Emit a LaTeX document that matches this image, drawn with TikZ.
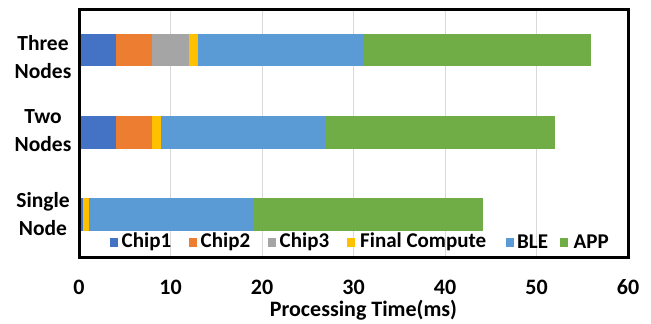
\documentclass[tikz,border=0pt]{standalone}
\usepackage{fontspec}
\setmainfont{Carlito}
\definecolor{cA}{HTML}{4472C4}
\definecolor{cB}{HTML}{ED7D31}
\definecolor{cC}{HTML}{A5A5A5}
\definecolor{cD}{HTML}{FFC000}
\definecolor{cE}{HTML}{5B9BD5}
\definecolor{cF}{HTML}{70AD47}
\definecolor{gridc}{HTML}{D9D9D9}
\begin{document}
\begin{tikzpicture}[x=1pt,y=-1pt,
  txt/.style={font=\bfseries\fontsize{21}{28}\selectfont, inner sep=0pt, text=black},
  big/.style={txt, font=\bfseries\fontsize{22}{28}\selectfont},
  cat/.style={txt, align=center, font=\bfseries\fontsize{21.5}{28}\selectfont},
  legtxt/.style={txt, anchor=west},
  legsq/.style={inner sep=0pt, minimum width=8pt, minimum height=9pt}]
\useasboundingbox (0,0) rectangle (651,324);
\fill[white] (0,0) rectangle (651,324);
\begin{scope}[shift={(79,0)}, x=9.15pt]
  % grid
  \foreach \v in {10,20,30,40,50} \draw[gridc, line width=1pt] (\v,9) -- (\v,257);
  % Three nodes
  \fill[cA] (0,34) rectangle (4,66);
  \fill[cB] (4,34) rectangle (8,66);
  \fill[cC] (8,34) rectangle (12,66);
  \fill[cD] (12,34) rectangle (13,66);
  \fill[cE] (13,34) rectangle (31,66);
  \fill[cF] (31,34) rectangle (56,66);
  % Two nodes
  \fill[cA] (0,116) rectangle (4,149);
  \fill[cB] (4,116) rectangle (8,149);
  \fill[cD] (8,116) rectangle (9,149);
  \fill[cE] (9,116) rectangle (27,149);
  \fill[cF] (27,116) rectangle (52,149);
  % Single node
  \fill[cA] (0,198) rectangle (0.45,231);
  \fill[cD] (0.45,198) rectangle (1.1,231);
  \fill[cE] (1.1,198) rectangle (19.1,231);
  \fill[cF] (19.1,198) rectangle (44.2,231);
  % frame
  \draw[line width=3pt] (0,9) rectangle (60,257);
  % ticks
  \foreach \v in {0,10,20,30,40,50,60} \node[big] (t\v) at (\v,287) {\v};
\end{scope}
% category labels
\node[cat] (three) at (43,57) {Three\\Nodes};
\node[cat] (two) at (43,131) {Two\\Nodes};
\node[cat] (single) at (43,214) {Single\\Node};
% legend
\node[legsq, fill=cA] (s1) at (114,242) {};
\node[legtxt] (l1) at (121.5,242) {Chip1};
\node[legsq, fill=cB] (s2) at (193,242) {};
\node[legtxt] (l2) at (200.5,242) {Chip2};
\node[legsq, fill=cC] (s3) at (272,242) {};
\node[legtxt] (l3) at (279.5,242) {Chip3};
\node[legsq, fill=cD] (s4) at (350.5,242) {};
\node[legtxt] (l4) at (360,242) {Final Compute};
\node[legsq, fill=cE] (s5) at (510,242) {};
\node[legtxt] (l5) at (517,242) {BLE};
\node[legsq, fill=cF] (s6) at (564,242) {};
\node[legtxt] (l6) at (573.5,242) {APP};
% axis title
\node[big] (title) at (363.5,310) {Processing Time(ms)};
\end{tikzpicture}
\end{document}
